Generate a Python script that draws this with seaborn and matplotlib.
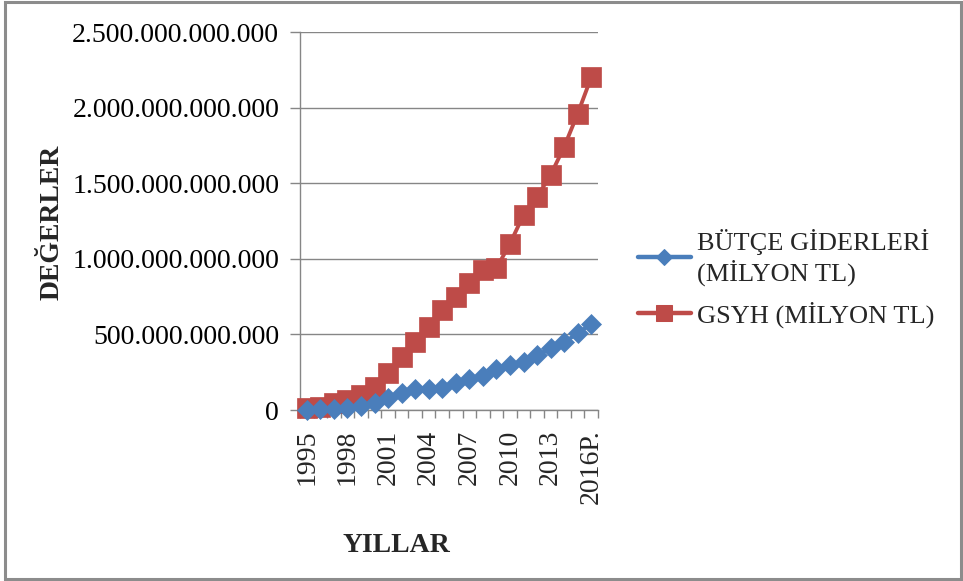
import matplotlib
matplotlib.use("Agg")
import matplotlib.pyplot as plt
import seaborn as sns
import pandas as pd
from matplotlib.patches import Rectangle
from matplotlib.ticker import FixedLocator, FuncFormatter

years = ["1995", "1996", "1997", "1998", "1999", "2000", "2001", "2002", "2003",
         "2004", "2005", "2006", "2007", "2008", "2009", "2010", "2011", "2012",
         "2013", "2014", "2015", "2016P."]
butce = [1.7e9, 4.0e9, 8.2e9, 15.6e9, 28.1e9, 46.7e9, 80.6e9, 115.7e9, 140.5e9,
         141.0e9, 146.0e9, 178.1e9, 204.1e9, 227.0e9, 268.2e9, 294.4e9, 314.6e9,
         361.9e9, 408.2e9, 448.8e9, 506.3e9, 570.5e9]
gsyh = [11e9, 22e9, 44e9, 66e9, 99e9, 154e9, 243e9, 353e9, 452e9, 551e9, 661e9,
        750e9, 838e9, 926e9, 937e9, 1100e9, 1290e9, 1410e9, 1554e9, 1740e9,
        1960e9, 2200e9]
series_names = ["BÜTÇE GİDERLERİ\n(MİLYON TL)", "GSYH (MİLYON TL)"]
yticks = [0, 500e9, 1000e9, 1500e9, 2000e9, 2500e9]
xlabels_shown = ["1995", "1998", "2001", "2004", "2007", "2010", "2013", "2016P."]

df = pd.DataFrame({
    "year": years * 2,
    "value": butce + gsyh,
    "series": [series_names[0]] * len(years) + [series_names[1]] * len(years),
})

sns.set_style("white")
plt.rcParams["font.family"] = ["Liberation Serif", "DejaVu Serif"]

W, H = 963, 581
fig = plt.figure(figsize=(W / 100, H / 100), dpi=100)
ax = fig.add_axes([300 / W, 1 - 410 / H, 298 / W, 378 / H])

colors = {series_names[0]: "#4A7EBB", series_names[1]: "#BE4B48"}
sns.lineplot(data=df, x="year", y="value", hue="series", style="series",
             markers={series_names[0]: "D", series_names[1]: "s"},
             dashes=False, palette=colors, ax=ax, linewidth=2.8,
             sort=False, legend=True)

sizes = {series_names[0]: 10.0, series_names[1]: 15.0}
for line, name in zip(ax.lines[:2], series_names):
    line.set_markersize(sizes[name])
    line.set_markeredgecolor(colors[name])
    line.set_markeredgewidth(0.5)
    line.set_clip_on(False)
    line.set_zorder(3 if name == series_names[1] else 4)

ax.set_xlim(-0.5, len(years) - 0.5)
ax.set_ylim(0, 2.5e12)
ax.set_yticks(yticks)
ax.yaxis.set_major_formatter(FuncFormatter(lambda v, p: f"{v:,.0f}".replace(",", ".")))
ax.tick_params(axis="y", labelsize=20, length=7, color="#868686", width=1, pad=8,
               left=True, labelcolor="black")
ax.grid(axis="y", color="#868686", linewidth=1)
ax.grid(axis="x", visible=False)

pos = [years.index(l) for l in xlabels_shown]
ax.set_xticks(pos)
ax.set_xticklabels(xlabels_shown, rotation=90, fontsize=20)
ax.tick_params(axis="x", which="major", length=0, pad=14)
ax.xaxis.set_minor_locator(FixedLocator([i - 0.5 for i in range(len(years) + 1)]))
ax.tick_params(axis="x", which="minor", length=6, color="#868686", width=1, bottom=True)

for s in ["top", "right"]:
    ax.spines[s].set_visible(False)
for s in ["left", "bottom"]:
    ax.spines[s].set_color("#868686")
    ax.spines[s].set_linewidth(1)

ax.set_xlabel("")
ax.set_ylabel("")
fig.text(52 / W, 1 - 222 / H, "DEĞERLER", rotation=90, fontsize=20, fontweight="bold",
         ha="center", va="center")
fig.text(396 / W, 1 - 545 / H, "YILLAR", fontsize=20, fontweight="bold",
         ha="center", va="center")

handles, labels = ax.get_legend_handles_labels()
ax.legend_.remove()
for h, name in zip(handles, labels):
    h.set_markersize(sizes[name] * (0.85 if name == series_names[0] else 0.75))
    h.set_markeredgecolor(colors[name])
    h.set_linewidth(3.2)
fig.legend(handles, labels, loc="upper left", bbox_to_anchor=(638 / W, 1 - 229 / H),
           frameon=False, fontsize=19, handlelength=2.0, handletextpad=0.25,
           labelspacing=0.6, borderaxespad=0, borderpad=0)

fig.patches.append(Rectangle((5 / W, 2 / H), 956 / W, 577 / H, transform=fig.transFigure,
                             fill=False, edgecolor="#8c8c8c", linewidth=2.2))

fig.savefig("out.png", dpi=100)
